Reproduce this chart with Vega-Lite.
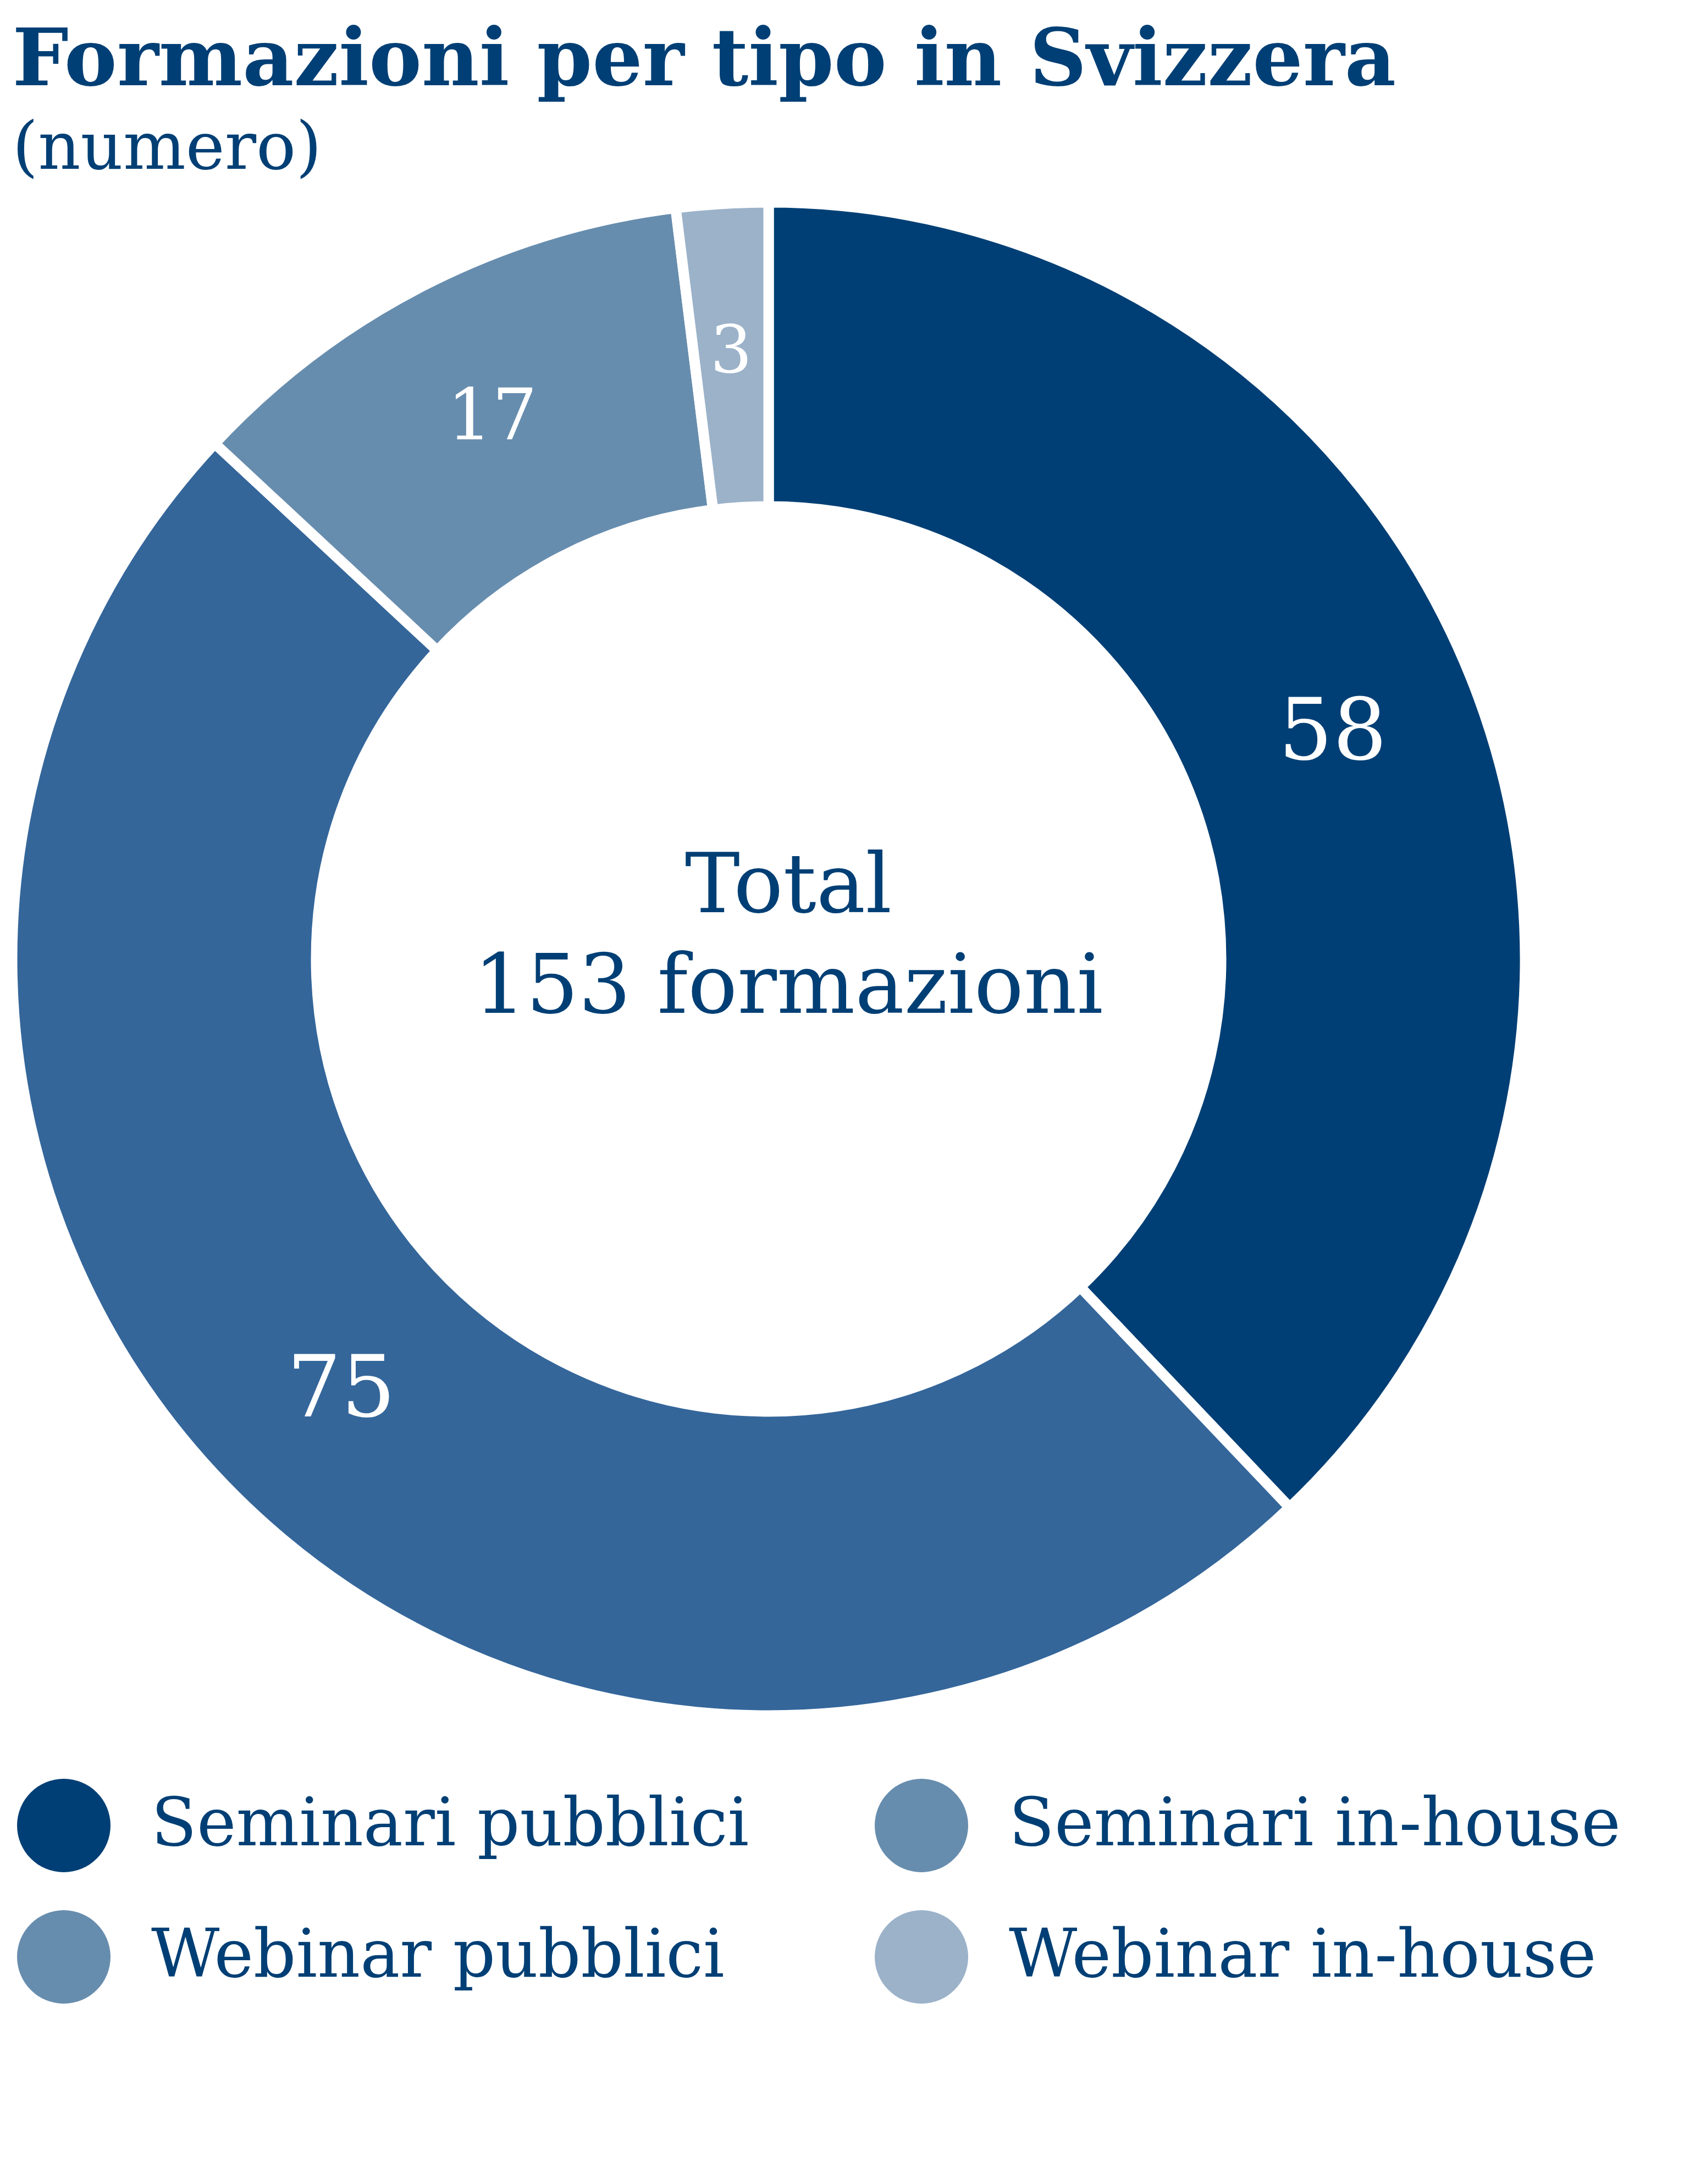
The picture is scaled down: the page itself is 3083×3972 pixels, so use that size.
{
  "$schema": "https://vega.github.io/schema/vega-lite/v6.json",
  "description": "Formazioni per tipo in Svizzera",
  "background": "white",
  "padding": {"left": 12, "top": 39, "right": 20, "bottom": 20},
  "title": {
    "text": "Formazioni per tipo in Svizzera",
    "subtitle": "(numero)",
    "anchor": "start",
    "font": "DejaVu Serif",
    "fontSize": 144,
    "fontWeight": "bold",
    "color": "#003f75",
    "subtitleFont": "DejaVu Serif",
    "subtitleFontSize": 120,
    "subtitleColor": "#003f75",
    "subtitlePadding": 27,
    "offset": 27,
    "dx": 10
  },
  "width": 2734,
  "height": 2734,
  "data": {
    "values": [
      {"tipo": "Seminari pubblici", "n": 58, "ordine": 1},
      {"tipo": "Seminari in-house", "n": 75, "ordine": 2},
      {"tipo": "Webinar pubblici", "n": 17, "ordine": 3},
      {"tipo": "Webinar in-house", "n": 3, "ordine": 4}
    ]
  },
  "layer": [
    {
      "mark": {"type": "arc", "outerRadius": 1376, "innerRadius": 823, "stroke": "white", "strokeWidth": 19, "strokeJoin": "round"},
      "encoding": {
        "theta": {"field": "n", "type": "quantitative", "stack": true},
        "order": {"field": "ordine", "type": "quantitative"},
        "color": {
          "field": "tipo",
          "type": "nominal",
          "scale": {
            "domain": ["Seminari pubblici", "Seminari in-house", "Webinar pubblici", "Webinar in-house"],
            "range": ["#003f75", "#34669a", "#678dae", "#9bb2c9"]
          },
          "legend": null
        }
      }
    },
    {
      "mark": {"type": "text", "radius": 1105, "font": "DejaVu Serif", "color": "white", "align": "center", "baseline": "middle"},
      "encoding": {
        "theta": {"field": "n", "type": "quantitative", "stack": true},
        "order": {"field": "ordine", "type": "quantitative"},
        "text": {"field": "n", "type": "quantitative"},
        "size": {
          "field": "n",
          "type": "quantitative",
          "scale": {"domain": [3, 58], "range": [120, 155], "clamp": true},
          "legend": null
        }
      }
    },
    {
      "mark": {"type": "point", "filled": true, "size": 0, "strokeWidth": 0},
      "encoding": {
        "fill": {
          "field": "tipo",
          "type": "nominal",
          "sort": ["Seminari pubblici", "Seminari in-house", "Webinar pubblici", "Webinar in-house"],
          "scale": {"range": ["#003f75", "#678dae", "#678dae", "#9bb2c9"]},
          "legend": {
            "title": null,
            "orient": "bottom",
            "direction": "horizontal",
            "columns": 2,
            "symbolType": "circle",
            "symbolSize": 28900,
            "symbolStrokeWidth": 0,
            "symbolOpacity": 1,
            "labelFont": "DejaVu Serif",
            "labelFontSize": 121,
            "labelColor": "#003f75",
            "labelLimit": 3000,
            "labelOffset": 74,
            "rowPadding": 69,
            "columnPadding": 228,
            "offset": 124
          }
        }
      }
    },
    {
      "data": {"values": [{"riga": "Total"}]},
      "mark": {
        "type": "text",
        "text": ["Total", "153 formazioni"],
        "font": "DejaVu Serif",
        "fontSize": 150,
        "lineHeight": 183,
        "color": "#003f75",
        "align": "center",
        "baseline": "alphabetic",
        "dx": 36,
        "dy": -85
      },
      "encoding": {}
    }
  ],
  "config": {"view": {"stroke": null}}
}
